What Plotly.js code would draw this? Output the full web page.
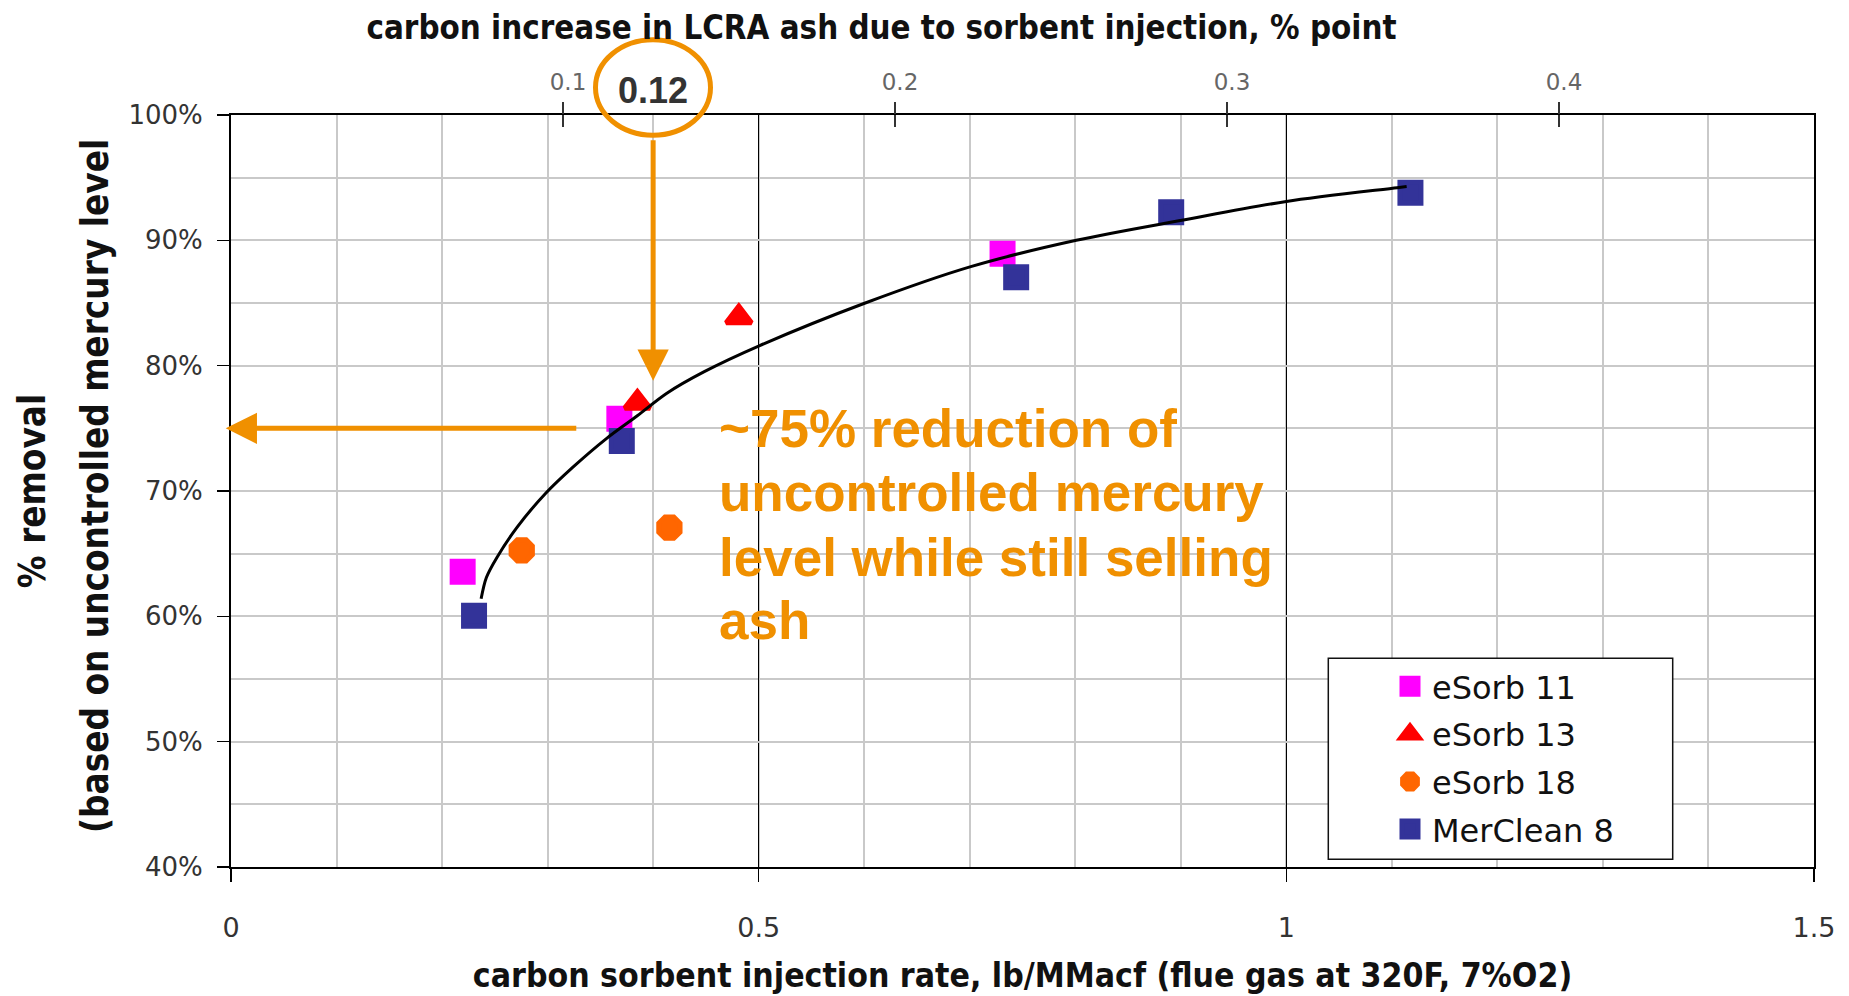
<!DOCTYPE html>
<html>
<head>
<meta charset="utf-8">
<script src="https://cdn.plot.ly/plotly-3.0.1.min.js"></script>
<style>
  html, body { margin: 0; padding: 0; background: #fff; }
  #chart { width: 1849px; height: 996px; }
</style>
</head>
<body>
<div id="chart"></div>
<script>
// ---- data ----
const seriesNames = ['eSorb 11', 'eSorb 13', 'eSorb 18', 'MerClean 8'];

const eSorb11X = [0.2195, 0.368, 0.7311];
const eSorb11Y = [63.56, 75.76, 88.92];

const eSorb13X = [0.3851, 0.4812];
const eSorb13Y = [77.05, 83.87];

const eSorb18X = [0.2755, 0.4154];
const eSorb18Y = [65.26, 67.07];

const merClean8X = [0.2303, 0.3703, 0.744, 0.8909, 1.1176];
const merClean8Y = [60.05, 73.98, 87.06, 92.24, 93.8];

// trend curve
const fitX = [0.237, 0.242, 0.252, 0.271, 0.298, 0.324, 0.356, 0.385, 0.413, 0.448, 0.501, 0.601, 0.701, 0.801, 0.901, 1.000, 1.105, 1.114];
const fitY = [61.4, 63.1, 64.7, 67.1, 69.8, 71.9, 74.2, 76.0, 77.8, 79.5, 81.6, 85.0, 87.9, 90.0, 91.6, 93.1, 94.2, 94.3];

const bottomTickVals = [0, 0.5, 1, 1.5];
const bottomTickText = ['0', '0.5', '1', '1.5'];
const topTickVals = [0.1, 0.2, 0.3, 0.4];
const topTickText = ['0.1', '0.2', '0.3', '0.4'];
const yTickVals = [40, 50, 60, 70, 80, 90, 100];
const yTickText = ['40%', '50%', '60%', '70%', '80%', '90%', '100%'];

const annotatedCarbon = '0.12';
const noteLines = ['~75% reduction of', 'uncontrolled mercury', 'level while still selling', 'ash'];

// ---- styling ----
const ORANGE = '#F09000';
const titleFont = {family: 'DejaVu Sans Condensed, DejaVu Sans', weight: 'bold', color: '#111'};

function markerTrace(name, xs, ys, symbol, color, size) {
  return {
    type: 'scatter', mode: 'markers', name: name, legendgroup: name,
    x: xs, y: ys, xaxis: 'x', yaxis: 'y',
    marker: {symbol: symbol, color: color, size: size, line: {color: color, width: 5}},
    cliponaxis: false, hoverinfo: 'x+y'
  };
}

// carriers for the top (secondary) axis: no visible marks, they only register the axis
function axisCarrier(axisId) {
  return {type: 'scatter', mode: 'markers', x: topTickVals, y: topTickVals.map(() => null),
          xaxis: axisId, yaxis: 'y', showlegend: false, hoverinfo: 'skip'};
}

const traces = [
  axisCarrier('x2'),
  axisCarrier('x3'),
  markerTrace(seriesNames[0], eSorb11X, eSorb11Y, 'square', '#FF00FF', 21),
  markerTrace(seriesNames[1], eSorb13X, eSorb13Y, 'triangle-up', '#FF0000', 22),
  markerTrace(seriesNames[2], eSorb18X, eSorb18Y, 'octagon', '#FF6600', 23),
  markerTrace(seriesNames[3], merClean8X, merClean8Y, 'square', '#333399', 21),
  {
    type: 'scatter', mode: 'lines', name: 'trend', showlegend: false,
    x: fitX, y: fitY, line: {color: '#000', width: 3, shape: 'spline', smoothing: 0.9}
  }
];

// plot area in pixels: x 231..1814, y 115..867
const L = 231, R = 35, T = 115, B = 129;
const PW = 1849 - L - R, PH = 996 - T - B;
function px2paperX(px) { return (px - L) / PW; }
function px2paperY(py) { return (996 - B - py) / PH; }

const noteY = [74.95, 69.9, 64.72, 59.67];
const annotations = noteLines.map((t, i) => ({
  xref: 'x', yref: 'y', x: 0.4607, y: noteY[i], xanchor: 'left', yanchor: 'middle',
  text: '<b>' + t + '</b>', showarrow: false,
  font: {family: 'Liberation Sans, Arial', size: 53, color: ORANGE}
}));

annotations.push({
  xref: 'paper', yref: 'paper', x: px2paperX(95), y: px2paperY(486),
  xanchor: 'center', yanchor: 'middle', textangle: -90,
  text: '(based on uncontrolled mercury level', showarrow: false,
  font: Object.assign({size: 36.5}, titleFont)
});

annotations.push({
  xref: 'x', yref: 'paper', x: 0.4, y: px2paperY(90.7), xanchor: 'center', yanchor: 'middle',
  text: '<b>' + annotatedCarbon + '</b>', showarrow: false,
  font: {family: 'Liberation Sans, Arial', size: 36, color: '#333'}
});

// vertical arrow from the 0.12 circle down to the curve
annotations.push({
  xref: 'x', yref: 'y', axref: 'x', ayref: 'y',
  x: 0.4, y: 78.8, ax: 0.4, ay: 98.1, text: '',
  showarrow: true, arrowhead: 2, arrowsize: 1.25, arrowwidth: 5, arrowcolor: ORANGE
});
// horizontal arrow to the y axis at 75%
annotations.push({
  xref: 'x', yref: 'y', axref: 'x', ayref: 'y',
  x: -0.005, y: 75, ax: 0.3286, ay: 75, text: '',
  showarrow: true, arrowhead: 2, arrowsize: 1.25, arrowwidth: 5, arrowcolor: ORANGE
});

const shapes = [
  {type: 'circle', xref: 'paper', yref: 'paper',
   x0: px2paperX(595.5), x1: px2paperX(710.5), y0: px2paperY(135.2), y1: px2paperY(39.8),
   line: {color: ORANGE, width: 5}, fillcolor: 'rgba(0,0,0,0)', layer: 'above'},
  {type: 'rect', xref: 'paper', yref: 'paper',
   x0: px2paperX(1328.3), x1: px2paperX(1672.7), y0: px2paperY(859.3), y1: px2paperY(658.3),
   line: {color: '#111', width: 1.5}, fillcolor: '#fff', layer: 'above'}
];

const topAxisBase = {
  overlaying: 'x', side: 'top', anchor: 'y', range: [0, 0.4768], autorange: false,
  tickmode: 'array', tickvals: topTickVals, ticktext: topTickText,
  ticklen: 12, tickwidth: 1.5, tickcolor: '#333',
  showgrid: false, zeroline: false, showline: false, fixedrange: true,
  tickfont: {family: 'DejaVu Sans', size: 23, color: '#666'}
};

const layout = {
  width: 1849, height: 996,
  margin: {l: L, r: R, t: T, b: B, pad: 0},
  paper_bgcolor: '#fff', plot_bgcolor: '#fff',
  showlegend: true,
  title: {
    text: 'carbon increase in LCRA ash due to sorbent injection, % point',
    xref: 'paper', x: px2paperX(881.5), xanchor: 'center',
    yref: 'container', y: 1 - 28 / 996, yanchor: 'middle',
    font: Object.assign({size: 32.8}, titleFont)
  },
  xaxis: {
    range: [0, 1.5], tickmode: 'array', tickvals: bottomTickVals, ticktext: bottomTickText,
    ticks: 'outside', ticklen: 13, tickwidth: 1.5, tickcolor: '#000',
    showgrid: true, gridcolor: '#000', gridwidth: 1.5,
    minor: {dtick: 0.1, tick0: 0, showgrid: true, gridcolor: '#c9c9c9', gridwidth: 2, ticks: ''},
    showline: true, linecolor: '#000', linewidth: 2, mirror: true, zeroline: false,
    tickfont: {family: 'DejaVu Sans', size: 27, color: '#333'},
    ticklabelstandoff: 23,
    title: {text: 'carbon sorbent injection rate, lb/MMacf (flue gas at 320F, 7%O2)',
            font: Object.assign({size: 33.5}, titleFont), standoff: 21},
    fixedrange: true
  },
  xaxis2: Object.assign({}, topAxisBase, {ticks: 'outside', showticklabels: true, ticklabelstandoff: 3, ticklabelshift: 5}),
  xaxis3: Object.assign({}, topAxisBase, {ticks: 'inside', showticklabels: false}),
  yaxis: {
    range: [40, 100], tickmode: 'array', tickvals: yTickVals, ticktext: yTickText,
    ticks: 'outside', ticklen: 12, tickwidth: 1.5, tickcolor: '#000',
    showgrid: true, gridcolor: '#c9c9c9', gridwidth: 2,
    minor: {dtick: 5, tick0: 0, showgrid: true, gridcolor: '#c9c9c9', gridwidth: 2, ticks: ''},
    showline: true, linecolor: '#000', linewidth: 2, mirror: true, zeroline: false,
    tickfont: {family: 'DejaVu Sans', size: 26, color: '#333'},
    ticklabelstandoff: 9,
    title: {text: '% removal', font: Object.assign({size: 36.5}, titleFont), standoff: 72},
    fixedrange: true
  },
  legend: {
    x: px2paperX(1388), xanchor: 'left', y: px2paperY(659), yanchor: 'top',
    bgcolor: 'rgba(0,0,0,0)', borderwidth: 0, itemwidth: 34,
    font: {family: 'DejaVu Sans', size: 32, color: '#111'},
    traceorder: 'grouped', tracegroupgap: 3, itemclick: false, itemdoubleclick: false
  },
  annotations: annotations,
  shapes: shapes
};

Plotly.newPlot('chart', traces, layout, {displayModeBar: false, staticPlot: true});
</script>
</body>
</html>
